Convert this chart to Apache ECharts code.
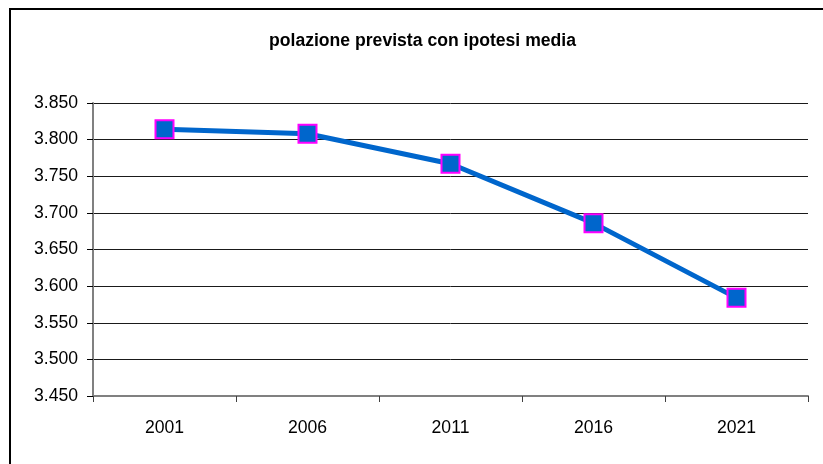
<!DOCTYPE html>
<html>
<head>
<meta charset="utf-8">
<script src="https://cdn.jsdelivr.net/npm/echarts@6/dist/echarts.min.js"></script>
<style>
  html, body { margin: 0; padding: 0; background: #fff; }
  #chart { width: 823px; height: 464px; }
</style>
</head>
<body>
<div id="chart"></div>
<script>
// dati (popolazione, migliaia)
const anni = ['2001', '2006', '2011', '2016', '2021'];
const popolazione = [3814, 3808, 3767, 3686, 3584];
const yMin = 3450;
const yMax = 3850;
const yStep = 50;

const chart = echarts.init(document.getElementById('chart'));

// 3850 -> "3.850"
function fmt(v) {
  return String(v).replace(/\B(?=(\d{3})+(?!\d))/g, '.');
}

chart.setOption({
  backgroundColor: '#fff',
  animation: false,
  graphic: [{
    type: 'rect',
    shape: { x: 10, y: 9, width: 900, height: 600 },
    style: { fill: 'none', stroke: '#000', lineWidth: 2 },
    silent: true
  }],
  title: {
    text: 'polazione prevista con ipotesi media',
    left: 264,
    top: 27,
    textStyle: {
      fontFamily: 'Liberation Sans, Arial, sans-serif',
      fontWeight: 'bold',
      fontSize: 17.6,
      color: '#000'
    }
  },
  grid: { left: 93, right: 15, top: 103, bottom: 68 },
  xAxis: {
    type: 'category',
    data: anni,
    boundaryGap: true,
    axisLine: { lineStyle: { color: '#808080', width: 2 } },
    axisTick: { show: true, length: 6, lineStyle: { color: '#404040' } },
    axisLabel: {
      margin: 23,
      fontFamily: 'Liberation Sans, Arial, sans-serif',
      fontSize: 17.6,
      color: '#000'
    },
    splitLine: { show: false }
  },
  yAxis: {
    type: 'value',
    min: yMin,
    max: yMax,
    interval: yStep,
    axisLine: { show: true, lineStyle: { color: '#808080', width: 2 } },
    axisTick: { show: true, length: 6, lineStyle: { color: '#000' } },
    axisLabel: {
      margin: 15,
      formatter: fmt,
      fontFamily: 'Liberation Sans, Arial, sans-serif',
      fontSize: 17.6,
      color: '#000'
    },
    splitLine: { show: true, lineStyle: { color: '#1a1a1a', width: 1 } }
  },
  series: [{
    type: 'line',
    data: popolazione,
    symbol: 'rect',
    symbolSize: 18,
    lineStyle: { color: '#0066CC', width: 5 },
    itemStyle: { color: '#0066CC', borderColor: '#FF00FF', borderWidth: 2 },
    z: 3
  }]
});
</script>
</body>
</html>
